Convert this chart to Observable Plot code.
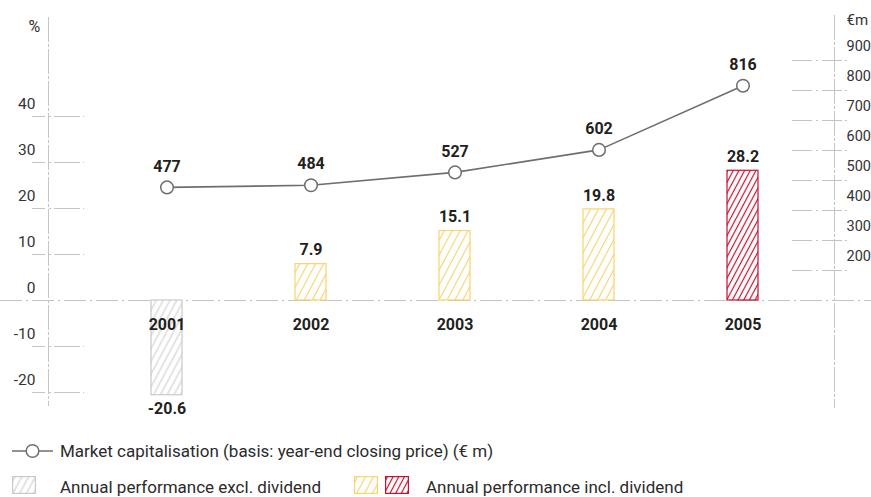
<!DOCTYPE html>
<html>
<head>
<meta charset="utf-8">
<script src="https://cdn.jsdelivr.net/npm/d3@7"></script>
<script src="https://cdn.jsdelivr.net/npm/@observablehq/plot@0.6"></script>
<style>
html, body { margin: 0; padding: 0; background: #fff; overflow: hidden; }
#wrap { position: relative; width: 871px; height: 497px; font-family: Roboto, sans-serif; }
#wrap svg.layer { position: absolute; left: 0; top: 0; }
.lg { position: absolute; font-size: 17px; line-height: 20px; color: #2b2b2b; white-space: nowrap; }
.sw { position: absolute; }
</style>
</head>
<body>
<svg width="0" height="0" style="position:absolute">
  <defs>
    <pattern id="hatch-excl" patternUnits="userSpaceOnUse" width="6" height="6" patternTransform="rotate(28)">
      <rect width="6" height="6" fill="#fff"/>
      <line x1="3" y1="0" x2="3" y2="6" stroke="#c9c9c9" stroke-width="1"/>
    </pattern>
    <pattern id="hatch-incl" patternUnits="userSpaceOnUse" width="7" height="7" patternTransform="rotate(28)">
      <rect width="7" height="7" fill="#fff"/>
      <line x1="3.5" y1="0" x2="3.5" y2="7" stroke="#f9d36c" stroke-width="1.1"/>
    </pattern>
    <pattern id="hatch-current" patternUnits="userSpaceOnUse" width="5" height="5" patternTransform="rotate(28)">
      <rect width="5" height="5" fill="#fff"/>
      <line x1="2.5" y1="0" x2="2.5" y2="5" stroke="#c4122f" stroke-width="1.2"/>
    </pattern>
  </defs>
</svg>
<div id="wrap"></div>
<script>
// ---- data ----
const years = [2001, 2002, 2003, 2004, 2005];
const performance = [-20.6, 7.9, 15.1, 19.8, 28.2];
const performanceBasis = ["excl", "incl", "incl", "incl", "incl"];
const marketCap = [477, 484, 527, 602, 816];
const pctTicks = [-20, -10, 0, 10, 20, 30, 40];
const capTicks = [200, 300, 400, 500, 600, 700, 800, 900];
const pctUnit = "%";
const capUnit = "€m";
const legendLine = "Market capitalisation (basis: year-end closing price) (€ m)";
const legendExcl = "Annual performance excl. dividend";
const legendIncl = "Annual performance incl. dividend";

// ---- tables ----
const lastYear = years[years.length - 1];
const perf = years.map((year, i) => ({year, value: performance[i], basis: performanceBasis[i]}));
const caps = years.map((year, i) => ({year, value: marketCap[i]}));

// ---- styles ----
const styleKey = d => d.basis === "excl" ? "excl" : (d.year === lastYear ? "current" : "incl");
const strokeOf = {excl: "#c9c9c9", incl: "#f9d36c", current: "#c4122f"};
const gridColor = "#c4c4c4";
const textDark = "#231f20";

const W = 871, H = 420;
const margins = {marginTop: 17, marginBottom: 15, marginLeft: 48, marginRight: 37};
const xScale = {type: "band", domain: years, range: [92.4, 815.65], paddingInner: 0.7857, paddingOuter: 0.39285, align: 0.5, axis: null};
const baseStyle = {fontFamily: "Roboto, sans-serif", fontSize: "15px", color: "#333", background: "transparent", overflow: "visible"};

const chartPct = Plot.plot({
  width: W, height: H, ...margins,
  style: baseStyle,
  x: xScale,
  y: {domain: [-22.83, 61.52], axis: null},
  color: {type: "identity"},
  marks: [
    Plot.frame({anchor: "left", stroke: gridColor, strokeDasharray: "24,3,2,3"}),
    Plot.ruleY(pctTicks.filter(d => d !== 0), {stroke: gridColor, strokeDasharray: "13,4,2,3,26,3,2,30", insetLeft: -16, insetRight: 750}),
    Plot.ruleY([0], {stroke: gridColor, strokeDasharray: "22,4,2,4", insetLeft: -48, insetRight: -37}),
    Plot.axisY({anchor: "left", ticks: pctTicks, tickSize: 0, tickPadding: 13, dy: -12, tickFormat: d => String(d), fontSize: 15.5, fill: "#333", label: null}),
    Plot.text([pctUnit], {frameAnchor: "top-left", lineAnchor: "middle", dx: -20, dy: 9, fontSize: 16, fill: "#333"}),
    Plot.barY(perf, {x: "year", y: "value", fill: d => `url(#hatch-${styleKey(d)})`, stroke: d => strokeOf[styleKey(d)], strokeWidth: 1.2}),
    Plot.text(perf, {filter: d => d.value >= 0, x: "year", y: "value", text: d => d.value.toFixed(1), dy: -14, fontWeight: "bold", fontSize: 16, fill: textDark}),
    Plot.text(perf, {filter: d => d.value < 0, x: "year", y: "value", text: d => d.value.toFixed(1), dy: 14, fontWeight: "bold", fontSize: 16, fill: textDark}),
    Plot.text(years, {x: d => d, y: () => 0, text: d => String(d), dy: 24, fontWeight: "bold", fontSize: 16, fill: textDark})
  ]
});

const chartCap = Plot.plot({
  width: W, height: H, ...margins,
  style: baseStyle,
  x: xScale,
  y: {domain: [-250, 1043.3], axis: null},
  marks: [
    Plot.frame({anchor: "right", stroke: gridColor, strokeDasharray: "24,3,2,3", insetTop: -2, insetBottom: -2}),
    Plot.ruleY(capTicks, {stroke: gridColor, strokeDasharray: "20,4,2,4,20,3,2,20", insetLeft: 744, insetRight: -18}),
    Plot.axisY({anchor: "right", ticks: capTicks, tickSize: 0, tickPadding: 12, dy: -14, tickFormat: d => String(d), fontSize: 14.5, fill: "#333", label: null}),
    Plot.text([capUnit], {frameAnchor: "top-right", lineAnchor: "middle", dx: 12, dy: 3, textAnchor: "start", fontSize: 15, fill: "#333"}),
    Plot.line(caps, {x: "year", y: "value", stroke: "#6e6e6e", strokeWidth: 1.6}),
    Plot.dot(caps, {x: "year", y: "value", r: 6.3, fill: "#fff", stroke: "#6e6e6e", strokeWidth: 1.5}),
    Plot.text(caps, {x: "year", y: "value", text: d => String(d.value), dy: -21, fontWeight: "bold", fontSize: 16, fill: textDark})
  ]
});

const wrap = document.getElementById("wrap");
chartPct.classList.add("layer");
chartCap.classList.add("layer");
wrap.appendChild(chartPct);
wrap.appendChild(chartCap);

// ---- legend ----
function add(html) { wrap.insertAdjacentHTML("beforeend", html); }
add(`<svg class="sw" style="left:10px;top:441px" width="46" height="20">
  <line x1="2" y1="10" x2="43" y2="10" stroke="#6e6e6e" stroke-width="1.6"/>
  <circle cx="22.5" cy="10" r="6.3" fill="#fff" stroke="#6e6e6e" stroke-width="1.5"/></svg>`);
add(`<div class="lg" style="left:60px;top:441px">${legendLine}</div>`);
const swatch = (left, key) => `<svg class="sw" style="left:${left}px;top:476px" width="24" height="18">
  <rect x="0.6" y="0.6" width="22.8" height="16.8" fill="url(#hatch-${key})" stroke="${strokeOf[key]}" stroke-width="1.2"/></svg>`;
add(swatch(12, "excl"));
add(`<div class="lg" style="left:60px;top:477px">${legendExcl}</div>`);
add(swatch(354, "incl"));
add(swatch(385, "current"));
add(`<div class="lg" style="left:426px;top:477px">${legendIncl}</div>`);
</script>
</body>
</html>
